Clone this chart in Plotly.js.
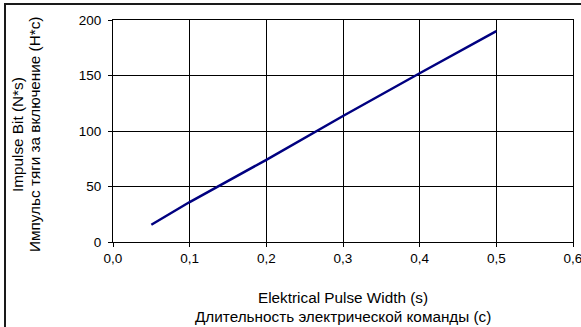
<!DOCTYPE html>
<html>
<head>
<meta charset="utf-8">
<script src="https://cdn.plot.ly/plotly-3.0.1.min.js"></script>
<style>
  html, body { margin: 0; padding: 0; background: #fff; overflow: hidden; }
  #chart { position: absolute; left: 0; top: 0; width: 581px; height: 327px; }
  #frame { position: absolute; left: 4px; top: 3px; width: 700px; height: 500px;
           border: 2px solid #1a1a1a; pointer-events: none; }
</style>
</head>
<body>
<div id="chart"></div>
<div id="frame"></div>
<script>
// Data
const pulseWidth = [0.05, 0.1, 0.2, 0.3, 0.4, 0.5];        // s
const impulseBit = [15.5, 36, 74, 113.5, 152, 190];         // N*s

const xTitleEn = 'Elektrical Pulse Width (s)';
const xTitleRu = 'Длительность электрической команды (с)';
const yTitleEn = 'Impulse Bit (N*s)';
const yTitleRu = 'Импульс тяги за включение (Н*с)';

const xTickVals = [0, 0.1, 0.2, 0.3, 0.4, 0.5, 0.6];
const yTickVals = [0, 50, 100, 150, 200];

const font = 'Liberation Sans, Arial, sans-serif';
const titleSize = 15.3;

const trace = {
  x: pulseWidth,
  y: impulseBit,
  type: 'scatter',
  mode: 'lines',
  line: { color: '#000080', width: 2.5 },
  hoverinfo: 'skip'
};

const layout = {
  width: 581,
  height: 327,
  margin: { l: 113, r: 8, t: 20, b: 85 },
  paper_bgcolor: '#ffffff',
  plot_bgcolor: '#ffffff',
  separators: ',.',
  showlegend: false,
  font: { family: font, size: 13.5, color: '#000' },
  xaxis: {
    range: [0, 0.6],
    tickvals: xTickVals,
    tickformat: '.1f',
    ticklabeloverflow: 'allow',
    showgrid: true, gridcolor: '#000', gridwidth: 1,
    showline: true, linecolor: '#000', linewidth: 1, mirror: true,
    ticks: 'outside', ticklen: 4, tickcolor: '#000',
    zeroline: false,
    tickfont: { family: font, size: 13.5, color: '#000' }
  },
  yaxis: {
    range: [0, 200],
    tickvals: yTickVals,
    ticklabelstandoff: 4,
    showgrid: true, gridcolor: '#000', gridwidth: 1,
    showline: true, linecolor: '#000', linewidth: 1, mirror: true,
    ticks: 'outside', ticklen: 4, tickcolor: '#000',
    zeroline: false,
    tickfont: { family: font, size: 13.5, color: '#000' }
  },
  annotations: [
    { text: xTitleEn, xref: 'paper', yref: 'paper', x: 0.5, y: 0,
      xanchor: 'center', yanchor: 'middle', yshift: -55, showarrow: false,
      font: { family: font, size: titleSize, color: '#000' } },
    { text: xTitleRu, xref: 'paper', yref: 'paper', x: 0.5, y: 0,
      xanchor: 'center', yanchor: 'middle', yshift: -74.5, showarrow: false,
      font: { family: font, size: titleSize, color: '#000' } },
    { text: yTitleEn, xref: 'paper', yref: 'paper', x: 0, y: 0.5,
      xanchor: 'center', yanchor: 'middle', xshift: -96, yshift: -4, textangle: -90, showarrow: false,
      font: { family: font, size: titleSize, color: '#000' } },
    { text: yTitleRu, xref: 'paper', yref: 'paper', x: 0, y: 0.5,
      xanchor: 'center', yanchor: 'middle', xshift: -79, yshift: -4, textangle: -90, showarrow: false,
      font: { family: font, size: titleSize, color: '#000' } }
  ]
};

Plotly.newPlot('chart', [trace], layout, { staticPlot: true, displayModeBar: false });
</script>
</body>
</html>
